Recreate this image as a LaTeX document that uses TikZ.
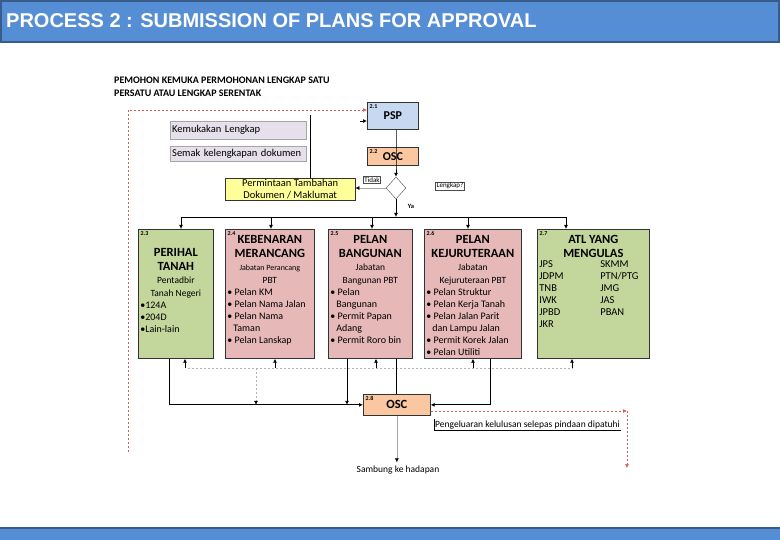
\documentclass[tikz,border=0pt]{standalone}
\usepackage{fontspec}
\setmainfont{Carlito}
\newfontfamily\titlefont{Liberation Sans}
\usetikzlibrary{arrows.meta,positioning,shapes.geometric}

\definecolor{barblue}{RGB}{85,142,213}
\definecolor{bardark}{RGB}{56,93,138}
\definecolor{pspblue}{RGB}{198,217,241}
\definecolor{oscorange}{RGB}{250,199,160}
\definecolor{stgreen}{RGB}{195,214,155}
\definecolor{stpink}{RGB}{230,185,184}
\definecolor{reqyellow}{RGB}{255,255,153}
\definecolor{lav}{RGB}{230,224,236}
\definecolor{dashred}{RGB}{222,90,90}

\newcommand{\boxhead}[1]{{\centering\fontsize{12.5}{14}\selectfont\bfseries #1\par}}
\newcommand{\boxsub}[1]{{\centering\fontsize{9.5}{13}\selectfont #1\par}}

\begin{document}
\begin{tikzpicture}[x=1pt,y=-1pt,
  line/.style={draw=black,line width=0.8pt},
  arr/.style={line,-{Latex[length=4pt,width=4pt]}},
  grayarr/.style={draw=gray!70,line width=0.6pt,-{Latex[length=4pt,width=4pt,color=black]}},
  reddash/.style={draw=dashred,line width=0.7pt,dash pattern=on 2pt off 2pt,-{Latex[length=4pt,width=4pt]}},
  graydash/.style={draw=gray!60,line width=0.6pt,dash pattern=on 2pt off 2pt},
  stagebox/.style={draw=black!80,line width=0.7pt,anchor=north west,inner sep=2pt,font=\fontsize{10}{12}\selectfont},
  smallbox/.style={draw=black!80,line width=0.7pt,anchor=north west,inner sep=1pt,font=\fontsize{12}{14}\selectfont\bfseries},
  num/.style={font=\fontsize{6}{7}\selectfont\bfseries,inner sep=2.5pt,anchor=north west},
  tag/.style={draw=black!70,line width=0.4pt,font=\fontsize{7}{8}\selectfont,inner sep=1pt},
  stepnote/.style={anchor=north west,draw=gray!70,fill=lav,minimum width=136pt,text width=132pt,align=left,inner xsep=2pt,font=\fontsize{10.5}{12}\selectfont}
]
\useasboundingbox (0,0) rectangle (780,540);

% bars
\fill[barblue] (0,0) rectangle (780,43);
\draw[bardark,line width=2pt] (1,1) rectangle (779,42);
\node[anchor=west,text=white,inner sep=0,font=\titlefont\bfseries\fontsize{20}{22}\selectfont] (title) at (6,21) {PROCESS 2 : SUBMISSION OF PLANS FOR APPROVAL};
\fill[barblue] (0,527) rectangle (780,540);
\draw[bardark,line width=2pt] (0,528) -- (780,528);

\node[anchor=north west,align=left,inner sep=0,font=\bfseries\fontsize{10}{13}\selectfont] (head) at (114,77) {PEMOHON KEMUKA PERMOHONAN LENGKAP SATU\\PERSATU ATAU LENGKAP SERENTAK};

% top part
\node[smallbox,fill=pspblue,minimum width=51pt,minimum height=27pt,label={[num]north west:2.1}] (psp) at (367,102) {PSP};
\node[smallbox,fill=oscorange,minimum width=51pt,minimum height=18pt,label={[num]north west:2.2}] (osc2) at (367,147) {OSC};
\node[diamond,draw=black!70,fill=white,minimum width=20pt,minimum height=22pt,inner sep=0] (dec) at (396,188) {};
\node[stepnote,minimum height=18pt] (kem) at (170,121) {Kemukakan Lengkap};
\node[stepnote,minimum height=15pt,inner ysep=2pt] (sem) at (170,146) {Semak kelengkapan dokumen};
\node[anchor=north west,draw=black!80,fill=reqyellow,minimum width=130pt,minimum height=22pt,align=center,inner sep=0.5pt,font=\fontsize{10.5}{12}\selectfont] (req) at (225,178) {Permintaan Tambahan\\Dokumen / Maklumat};
\node[tag] (tidak) at (372,180) {Tidak};
\node[tag] (lengkap) at (450,186) {Lengkap?};
\node[font=\bfseries\fontsize{6.5}{7}\selectfont] (ya) at (411,206) {Ya};

\coordinate (rt) at (128,110);
\coordinate (rb) at (128,452);
\coordinate (vtop) at (310,115);
\coordinate (pspin) at (360,121);

\draw[reddash] (rb) -- (rt) -- (rt -| psp.west);
\draw[line] (310,0 |- req.north) -- (vtop);
\draw[arr] (pspin) -- (pspin -| psp.west);
\draw[arr] (psp.south -| dec) -- (osc2.south -| dec) -- (dec.north);
\draw[grayarr] (dec.west) -- (dec.west -| req.east);
\draw[arr] (dec.south) -- (396,217);
\draw[line] (181,217) -- (566,217);

% stages
\node[stagebox,fill=stgreen,label={[num]north west:2.3}] (b23) at (138,229) {\parbox[t][125pt][t]{71pt}{\raggedright
  \vspace*{17pt}\boxhead{PERIHAL\\TANAH}
  \boxsub{Pentadbir\\Tanah Negeri}
  •124A\\•204D\\•Lain-lain}};
\node[stagebox,fill=stpink,label={[num]north west:2.4}] (b24) at (225,229) {\parbox[t][125pt][t]{85pt}{\raggedright
  \vspace*{4pt}\boxhead{KEBENARAN\\MERANCANG}
  {\centering\fontsize{8}{13}\selectfont Jabatan Perancang\\\fontsize{9.5}{13}\selectfont PBT\par}
  • Pelan KM\\• Pelan Nama Jalan\\• Pelan Nama\\\hspace*{6pt}Taman\\• Pelan Lanskap}};
\node[stagebox,fill=stpink,label={[num]north west:2.5}] (b25) at (328,229) {\parbox[t][125pt][t]{80pt}{\raggedright
  \vspace*{4pt}\boxhead{PELAN\\BANGUNAN}
  \boxsub{Jabatan\\Bangunan PBT}
  • Pelan\\\hspace*{6pt}Bangunan\\• Permit Papan\\\hspace*{6pt}Adang\\• Permit Roro bin}};
\node[stagebox,fill=stpink,label={[num]north west:2.6}] (b26) at (424,229) {\parbox[t][125pt][t]{93pt}{\raggedright
  \vspace*{4pt}\boxhead{PELAN\\KEJURUTERAAN}
  \boxsub{Jabatan\\Kejuruteraan PBT}
  • Pelan Struktur\\• Pelan Kerja Tanah\\• Pelan Jalan Parit\\\hspace*{6pt}dan Lampu Jalan\\• Permit Korek Jalan\\• Pelan Utiliti}};
\node[stagebox,fill=stgreen,label={[num]north west:2.7}] (b27) at (537,229) {\parbox[t][125pt][t]{108pt}{\raggedright
  \vspace*{4pt}\boxhead{ATL YANG\\MENGULAS}
  \fontsize{10.5}{12}\selectfont
  \begin{tabular}{@{}p{49pt}l@{}}
  JPS & SKMM\\ JDPM & PTN/PTG\\ TNB & JMG\\ IWK & JAS\\ JPBD & PBAN\\ JKR &
  \end{tabular}}};

\foreach \x/\b in {181/b23,271/b24,372/b25,468/b26,566/b27}
  \draw[arr] (\x,217) -- (\x,217 |- \b.north);

% bottom part
\node[smallbox,fill=oscorange,minimum width=67pt,minimum height=21pt,font=\fontsize{12.5}{14}\selectfont\bfseries,label={[num]north west:2.8}] (osc8) at (363,394) {OSC};

\coordinate (dl) at (188,368);
\coordinate (dr) at (573,368);
\draw[graydash] (dl) -- (dr);
\foreach \x/\b in {185/b23,275/b24,376/b25,473/b26,572/b27}
  \draw[arr] (\x,368) -- (\x,368 |- \b.south);
\draw[graydash,-{Latex[length=4pt,width=4pt,color=black]}] (256,368) -- (256,0 |- osc8.west);

\draw[arr] (169,0 |- b23.south) |- (osc8.west);
\draw[arr] (347,0 |- b25.south) -- (347,0 |- osc8.west);
\draw[line] (osc8.north |- b25.south) -- (osc8.north);
\draw[arr] (490,0 |- b26.south) |- (osc8.east);

\node[font=\fontsize{9.5}{11}\selectfont] (samb) at (398,470) {Sambung ke hadapan};
\draw[grayarr] (osc8.south) -- (samb.north -| osc8.south);

\coordinate (rc) at (627,411);
\coordinate (re) at (627,468);
\draw[reddash] (osc8.east |- rc) -- (rc);
\draw[reddash] (rc) -- (re);
\node[anchor=south west,inner sep=1pt,font=\fontsize{9.5}{11}\selectfont] (keluar) at (434,430) {Pengeluaran kelulusan selepas pindaan dipatuhi};
\draw[line,line width=0.6pt] (keluar.north west) -- (keluar.south west) -- (keluar.south east);
\end{tikzpicture}
\end{document}
